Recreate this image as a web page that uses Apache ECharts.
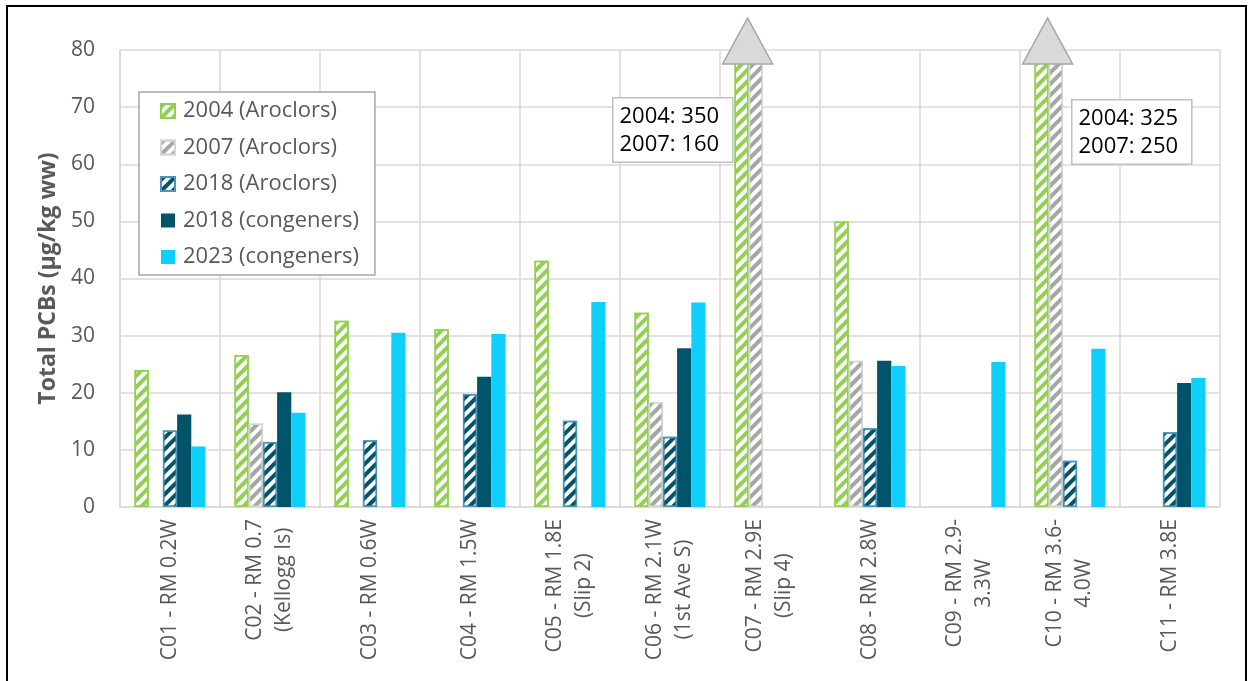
<!DOCTYPE html>
<html>
<head>
<meta charset="utf-8">
<title>Total PCBs by station</title>
<script src="https://cdn.jsdelivr.net/npm/echarts@6/dist/echarts.min.js"></script>
<style>
  html, body { margin: 0; padding: 0; background: #ffffff; }
  #chart { width: 1252px; height: 681px; }
</style>
</head>
<body>
<div id="chart"></div>
<script>
// Sampling stations (river mile, bank)
const categories = [
  'C01 - RM 0.2W',
  'C02 - RM 0.7\n(Kellogg Is)',
  'C03 - RM 0.6W',
  'C04 - RM 1.5W',
  'C05 - RM 1.8E\n(Slip 2)',
  'C06 - RM 2.1W\n(1st Ave S)',
  'C07 - RM 2.9E\n(Slip 4)',
  'C08 - RM 2.8W',
  'C09 - RM 2.9-\n3.3W',
  'C10 - RM 3.6-\n4.0W',
  'C11 - RM 3.8E'
];

// Total PCBs, µg/kg wet weight (null = not sampled)
const aroclors2004 = [24, 26.6, 32.6, 31.1, 43.1, 34, 350, 50, null, 325, null];
const aroclors2007 = [null, 14.6, null, null, null, 18.4, 160, 25.6, null, 250, null];
const aroclors2018 = [13.4, 11.4, 11.7, 19.8, 15.1, 12.3, null, 13.8, null, 8.1, 13.1];
const congeners2018 = [16.2, 20.1, null, 22.8, null, 27.8, null, 25.6, null, null, 21.7];
const congeners2023 = [10.6, 16.5, 30.5, 30.3, 35.9, 35.8, null, 24.7, 25.4, 27.7, 22.6];

const seriesNames = ['2004 (Aroclors)', '2007 (Aroclors)', '2018 (Aroclors)', '2018 (congeners)', '2023 (congeners)'];

const yMin = 0;
const yMax = 80;
const yStep = 10;

const FONT = '"Open Sans", "Noto Sans", sans-serif';
const TEXT = '#595959';

function stripes(color) {
  return {
    symbol: 'rect',
    symbolSize: 1,
    color: color,
    dashArrayX: [1, 0],
    dashArrayY: [3.5, 3.5],
    rotation: -Math.PI / 4
  };
}

function hatched(name, data, stripe, border) {
  return {
    name: name,
    type: 'bar',
    data: data,
    barGap: '0%',
    barCategoryGap: '29%',
    itemStyle: {
      color: '#ffffff',
      borderColor: border,
      borderWidth: 1.5,
      decal: stripes(stripe)
    }
  };
}

function solid(name, data, color) {
  return {
    name: name,
    type: 'bar',
    data: data,
    barGap: '0%',
    barCategoryGap: '29%',
    itemStyle: { color: color }
  };
}

// Off-scale stations get an arrow on top of their clipped bars
const offScale = aroclors2004
  .map((v, i) => (v !== null && v > yMax ? i : -1))
  .filter(i => i >= 0);

const s2004 = hatched(seriesNames[0], aroclors2004, '#92d050', '#92d050');
s2004.markPoint = {
  symbol: 'triangle',
  symbolSize: [50, 46],
  symbolOffset: [6, -9],
  silent: true,
  label: { show: false },
  itemStyle: { color: '#d9d9d9', borderColor: '#a6a6a6', borderWidth: 1.5 },
  data: offScale.map(i => ({ coord: [i, yMax] }))
};

function offScaleText(i) {
  return '2004: ' + aroclors2004[i] + '\n2007: ' + aroclors2007[i];
}

function noteBox(text, left, top) {
  return {
    type: 'text',
    left: left,
    top: top,
    silent: true,
    z: 10,
    style: {
      text: text,
      font: '22px ' + FONT,
      fill: '#000000',
      lineHeight: 28,
      backgroundColor: '#ffffff',
      borderColor: '#bfbfbf',
      borderWidth: 1.5,
      padding: [4, 13, 3, 6]
    }
  };
}

const chart = echarts.init(document.getElementById('chart'), null, { renderer: 'canvas' });

chart.setOption({
  backgroundColor: '#ffffff',
  animation: false,
  textStyle: { fontFamily: FONT },
  grid: { left: 120, right: 32, top: 50, bottom: 174, containLabel: false },
  legend: {
    orient: 'vertical',
    left: 139,
    top: 92,
    padding: [7, 16, 6, 21],
    itemGap: 12.5,
    itemWidth: 14,
    itemHeight: 14,
    icon: 'rect',
    backgroundColor: '#ffffff',
    borderColor: '#a6a6a6',
    borderWidth: 1.5,
    borderRadius: 0,
    data: seriesNames,
    textStyle: { fontFamily: FONT, fontSize: 22, color: TEXT, lineHeight: 24, padding: [0, 0, 0, 3] }
  },
  xAxis: {
    type: 'category',
    data: categories,
    axisTick: { show: false },
    axisLine: { lineStyle: { color: '#d9d9d9', width: 1.5 } },
    splitLine: { show: true, interval: 0, lineStyle: { color: '#d9d9d9', width: 1.5 } },
    axisLabel: {
      interval: 0,
      rotate: 90,
      margin: 12,
      formatter: v => v.split('\n').map(s => '{c|' + s + '}').join('\n'),
      rich: { c: { align: 'center', fontFamily: FONT, fontSize: 21, color: TEXT, lineHeight: 29 } }
    }
  },
  yAxis: {
    type: 'value',
    min: yMin,
    max: yMax,
    interval: yStep,
    name: 'Total PCBs (µg/kg ww)',
    nameLocation: 'middle',
    nameGap: 57,
    nameTextStyle: { fontFamily: FONT, fontSize: 23, fontWeight: 'bold', color: TEXT },
    axisLine: { show: true, lineStyle: { color: '#d9d9d9', width: 1.5 } },
    axisTick: { show: false },
    axisLabel: { margin: 25, fontFamily: FONT, fontSize: 21, color: TEXT },
    splitLine: { lineStyle: { color: '#d9d9d9', width: 1.5 } }
  },
  series: [
    s2004,
    hatched(seriesNames[1], aroclors2007, '#a6a6a6', '#d3d9cf'),
    hatched(seriesNames[2], aroclors2018, '#00546a', '#4f94b8'),
    solid(seriesNames[3], congeners2018, '#00546a'),
    solid(seriesNames[4], congeners2023, '#0dd0fc')
  ],
  graphic: [
    noteBox(offScaleText(offScale[0]), 612, 97),
    noteBox(offScaleText(offScale[1]), 1071, 99),
    {
      type: 'rect',
      silent: true,
      shape: { x: 7, y: 6, width: 1239, height: 720 },
      style: { fill: 'none', stroke: '#000000', lineWidth: 2 }
    }
  ]
});
</script>
</body>
</html>
